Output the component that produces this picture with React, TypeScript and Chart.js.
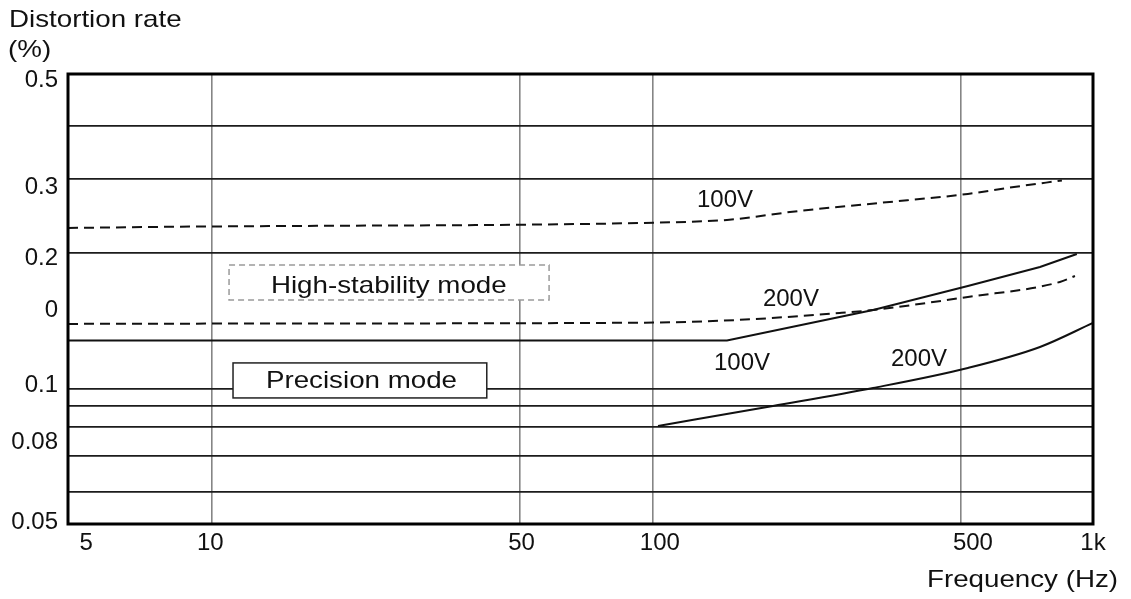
import React, { useEffect, useRef } from 'react';
import { Chart, registerables } from 'chart.js';

Chart.register(...registerables);

// ---- Axis ticks / grid ----
const xGridValues = [10, 50, 100, 500];
const xTickLabels = ['5', '10', '50', '100', '500', '1k'];
const xTickAt = [5.19, 9.93, 50.5, 104, 534, 1000];

const yGridValues = [0.383, 0.2922, 0.2, 0.1, 0.0915, 0.0821, 0.0708, 0.0589];
const yTickLabels = ['0.5', '0.3', '0.2', '0', '0.1', '0.08', '0.05'];
const yTickAt = [0.4849, 0.2805, 0.195, 0.1494, 0.1018, 0.076, 0.0503];

// ---- Series (frequency Hz, distortion %) ----
const hs100Freq = [4.72, 8.04, 15.9, 49.6, 100.8, 147.7, 216, 328, 520, 638, 850];
const hs100Rate = [0.2274, 0.2288, 0.2298, 0.2312, 0.2337, 0.237, 0.2482, 0.2585, 0.2707, 0.279, 0.29];

const hs200Freq = [4.72, 15.9, 96.2, 158, 266, 317, 520, 841, 910];
const hs200Rate = [0.1392, 0.1395, 0.1401, 0.1421, 0.1472, 0.1495, 0.1598, 0.1725, 0.1779];

const pr100Freq = [4.72, 147.7, 317, 520, 758, 919];
const pr100Rate = [0.1278, 0.1278, 0.1495, 0.169, 0.1862, 0.1991];

const pr200Freq = [103, 187.8, 317, 520, 758, 1000];
const pr200Rate = [0.0826, 0.0915, 0.1003, 0.1111, 0.1237, 0.1399];

// ---- Annotations (anchored in data space) ----
const curveLabels = ['100V', '200V', '100V', '200V'];
const curveLabelFreq = [126.3, 178.2, 138.0, 348];
const curveLabelRate = [0.2532, 0.1526, 0.11, 0.1122];

const modeLabels = ['High-stability mode', 'Precision mode'];
const modeLabelFreq = [13.63, 13.28];
const modeLabelRate = [0.1631, 0.1003];
const modeBoxFreq = [[10.95, 58.3], [11.18, 42.1]];
const modeBoxRate = [[0.1881, 0.1573], [0.114, 0.0953]];
const modeBoxDashed = [true, false];

const FONT = '"Liberation Sans", Arial, Helvetica, sans-serif';
const TEXT = '#111';
const WIDE = 1.155;

const toPts = (f: number[], v: number[]) => f.map((x, i) => ({ x, y: v[i] }));

function drawText(ctx: CanvasRenderingContext2D, text: string, x: number, y: number, sx: number) {
  ctx.save();
  ctx.translate(x, y);
  ctx.scale(sx, 1);
  ctx.fillText(text, 0, 0);
  ctx.restore();
}

const overlay = {
  id: 'overlay',
  afterDatasetsDraw(chart: any) {
    const { ctx, chartArea: a, scales } = chart;
    const xs = scales.x;
    const ys = scales.y;
    ctx.save();
    // frame
    ctx.strokeStyle = '#000';
    ctx.lineWidth = 3;
    ctx.setLineDash([]);
    ctx.strokeRect(a.left, a.top, a.right - a.left, a.bottom - a.top);

    // mode boxes
    modeBoxFreq.forEach((fr, i) => {
      const x1 = xs.getPixelForValue(fr[0]);
      const x2 = xs.getPixelForValue(fr[1]);
      const y1 = ys.getPixelForValue(modeBoxRate[i][0]);
      const y2 = ys.getPixelForValue(modeBoxRate[i][1]);
      ctx.fillStyle = '#fff';
      ctx.fillRect(x1, y1, x2 - x1, y2 - y1);
      ctx.lineWidth = 1.5;
      if (modeBoxDashed[i]) {
        ctx.setLineDash([6, 4]);
        ctx.strokeStyle = '#9a9a9a';
      } else {
        ctx.setLineDash([]);
        ctx.strokeStyle = '#222';
      }
      ctx.strokeRect(x1, y1, x2 - x1, y2 - y1);
    });
    ctx.setLineDash([]);

    ctx.fillStyle = TEXT;
    ctx.textBaseline = 'alphabetic';
    ctx.textAlign = 'left';
    ctx.font = `24px ${FONT}`;
    modeLabels.forEach((t, i) => {
      drawText(ctx, t, xs.getPixelForValue(modeLabelFreq[i]), ys.getPixelForValue(modeLabelRate[i]), WIDE);
    });
    curveLabels.forEach((t, i) => {
      drawText(ctx, t, xs.getPixelForValue(curveLabelFreq[i]), ys.getPixelForValue(curveLabelRate[i]), 1);
    });

    // axis titles
    drawText(ctx, 'Distortion rate', 9, 27, WIDE);
    drawText(ctx, '(%)', 8, 57, WIDE);
    drawText(ctx, 'Frequency (Hz)', 927, 587, WIDE);
    ctx.restore();
  },
};

export default function App() {
  const ref = useRef<HTMLCanvasElement | null>(null);
  useEffect(() => {
    if (!ref.current) return;
    const lineBase = {
      borderColor: '#111',
      borderWidth: 2,
      pointRadius: 0,
      fill: false,
    };
    const chart = new Chart(ref.current, {
      type: 'line',
      data: {
        datasets: [
          { ...lineBase, label: 'High-stability 100V', data: toPts(hs100Freq, hs100Rate), borderDash: [10, 6], cubicInterpolationMode: 'monotone' },
          { ...lineBase, label: 'High-stability 200V', data: toPts(hs200Freq, hs200Rate), borderDash: [10, 6], cubicInterpolationMode: 'monotone' },
          { ...lineBase, label: 'Precision 100V', data: toPts(pr100Freq, pr100Rate), tension: 0 },
          { ...lineBase, label: 'Precision 200V', data: toPts(pr200Freq, pr200Rate), cubicInterpolationMode: 'monotone' },
        ],
      },
      options: {
        animation: false,
        responsive: false,
        events: [],
        layout: { padding: { left: 0, right: 38, top: 74, bottom: 0 } },
        plugins: { legend: { display: false }, tooltip: { enabled: false }, title: { display: false } },
        scales: {
          x: {
            type: 'logarithmic',
            min: 4.72,
            max: 1000,
            border: { display: false },
            afterFit: (s: any) => { s.height = 75; },
            afterBuildTicks: (s: any) => {
              const vals = Array.from(new Set([...xGridValues, ...xTickAt])).sort((p, q) => p - q);
              s.ticks = vals.map((v) => ({ value: v }));
            },
            grid: {
              drawTicks: false,
              lineWidth: 1.6,
              color: (c: any) => (c.tick && xGridValues.includes(c.tick.value) ? '#858585' : 'rgba(0,0,0,0)'),
            },
            ticks: {
              autoSkip: false,
              maxRotation: 0,
              minRotation: 0,
              padding: 5,
              color: TEXT,
              font: { family: FONT, size: 24 },
              callback: (v: any) => {
                const i = xTickAt.indexOf(Number(v));
                return i >= 0 ? xTickLabels[i] : '';
              },
            },
          },
          y: {
            type: 'logarithmic',
            min: 0.05,
            max: 0.5,
            border: { display: false },
            afterFit: (s: any) => { s.width = 68; },
            afterBuildTicks: (s: any) => {
              const vals = Array.from(new Set([...yGridValues, ...yTickAt])).sort((p, q) => p - q);
              s.ticks = vals.map((v) => ({ value: v }));
            },
            grid: {
              drawTicks: false,
              lineWidth: 1.8,
              color: (c: any) => (c.tick && yGridValues.includes(c.tick.value) ? '#1c1c1c' : 'rgba(0,0,0,0)'),
            },
            ticks: {
              autoSkip: false,
              padding: 10,
              color: TEXT,
              font: { family: FONT, size: 24 },
              callback: (v: any) => {
                const i = yTickAt.indexOf(Number(v));
                return i >= 0 ? yTickLabels[i] : '';
              },
            },
          },
        },
      },
      plugins: [overlay],
    } as any);
    return () => chart.destroy();
  }, []);
  return (
    <div style={{ position: 'fixed', left: 0, top: 0, width: 1131, height: 599, background: '#fff' }}>
      <canvas ref={ref} width={1131} height={599} style={{ display: 'block' }} />
    </div>
  );
}
